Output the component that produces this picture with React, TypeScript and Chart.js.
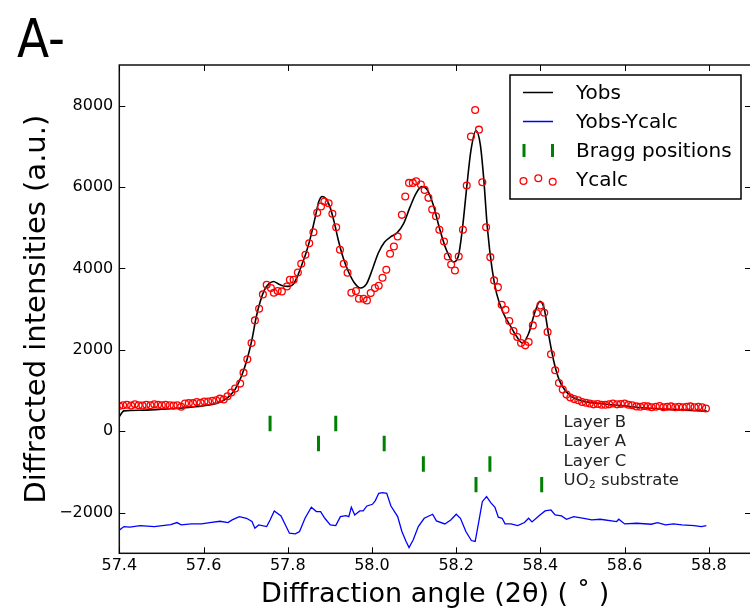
import React, { useEffect, useRef } from 'react';
import { Chart, registerables } from 'chart.js';

Chart.register(...registerables);

const FONT = "'DejaVu Sans', 'Noto Sans', sans-serif";

const obsX = [57.400, 57.411, 57.45, 57.50, 57.55, 57.58, 57.61, 57.63, 57.65, 57.665, 57.675, 57.69, 57.703, 57.715, 57.725, 57.735, 57.745, 57.755, 57.766, 57.778, 57.79, 57.80, 57.812, 57.822, 57.832, 57.844, 57.855, 57.865, 57.874, 57.882, 57.89, 57.90, 57.91, 57.92, 57.932, 57.945, 57.958, 57.973, 57.987, 58.0, 58.015, 58.03, 58.045, 58.06, 58.075, 58.09, 58.105, 58.118, 58.132, 58.146, 58.16, 58.175, 58.193, 58.205, 58.215, 58.225, 58.235, 58.247, 58.257, 58.265, 58.274, 58.285, 58.296, 58.312, 58.328, 58.344, 58.357, 58.372, 58.387, 58.399, 58.409, 58.419, 58.431, 58.445, 58.459, 58.474, 58.50, 58.54, 58.59, 58.65, 58.72, 58.795];
const obsY = [360, 500, 515, 540, 570, 600, 640, 680, 770, 900, 1030, 1350, 1750, 2250, 2800, 3200, 3480, 3620, 3680, 3620, 3570, 3560, 3600, 3780, 4050, 4400, 4800, 5250, 5650, 5770, 5720, 5520, 5150, 4700, 4250, 3900, 3650, 3520, 3620, 3950, 4380, 4650, 4780, 4880, 5100, 5500, 5850, 6010, 5920, 5550, 5000, 4500, 4160, 4300, 5000, 6000, 6900, 7390, 7060, 6250, 5000, 4000, 3380, 2900, 2600, 2320, 2170, 2400, 2930, 3190, 3010, 2400, 1750, 1250, 1000, 850, 740, 680, 630, 570, 530, 495];

const calcX = [57.400, 57.409, 57.418, 57.428, 57.437, 57.446, 57.455, 57.464, 57.474, 57.483, 57.492, 57.501, 57.510, 57.520, 57.529, 57.538, 57.547, 57.556, 57.565, 57.575, 57.584, 57.593, 57.602, 57.611, 57.621, 57.630, 57.639, 57.648, 57.657, 57.666, 57.675, 57.687, 57.695, 57.704, 57.714, 57.722, 57.732, 57.741, 57.750, 57.760, 57.767, 57.776, 57.786, 57.798, 57.805, 57.814, 57.824, 57.832, 57.842, 57.851, 57.861, 57.870, 57.879, 57.887, 57.897, 57.906, 57.915, 57.924, 57.933, 57.942, 57.951, 57.962, 57.969, 57.980, 57.988, 57.997, 58.007, 58.016, 58.025, 58.034, 58.043, 58.052, 58.061, 58.071, 58.079, 58.088, 58.097, 58.105, 58.116, 58.125, 58.134, 58.143, 58.152, 58.160, 58.171, 58.180, 58.188, 58.197, 58.206, 58.216, 58.225, 58.235, 58.245, 58.254, 58.262, 58.271, 58.281, 58.290, 58.299, 58.308, 58.317, 58.326, 58.336, 58.345, 58.354, 58.364, 58.372, 58.382, 58.391, 58.400, 58.409, 58.417, 58.425, 58.435, 58.444, 58.453, 58.462, 58.471, 58.480, 58.490, 58.499, 58.508, 58.517, 58.526, 58.536, 58.545, 58.554, 58.563, 58.572, 58.582, 58.591, 58.600, 58.609, 58.618, 58.628, 58.637, 58.646, 58.655, 58.664, 58.674, 58.683, 58.692, 58.701, 58.710, 58.720, 58.729, 58.738, 58.747, 58.756, 58.766, 58.775, 58.784, 58.793];
const calcY = [620, 640, 650, 630, 660, 640, 630, 650, 640, 660, 650, 640, 650, 640, 630, 640, 600, 680, 690, 690, 720, 700, 730, 730, 750, 760, 800, 780, 860, 950, 1048, 1170, 1440, 1767, 2167, 2724, 3011, 3362, 3600, 3517, 3404, 3443, 3436, 3558, 3722, 3722, 3902, 4115, 4336, 4621, 4891, 5367, 5521, 5644, 5603, 5342, 5013, 4459, 4115, 3894, 3404, 3443, 3256, 3256, 3215, 3394, 3517, 3575, 3771, 3967, 4360, 4540, 4785, 5318, 5767, 6103, 6103, 6143, 6062, 5931, 5735, 5448, 5284, 4950, 4663, 4295, 4098, 3951, 4295, 4950, 6037, 7240, 7894, 7411, 6118, 5013, 4278, 3706, 3541, 3109, 2986, 2707, 2461, 2314, 2167, 2110, 2192, 2601, 2904, 3092, 2912, 2437, 1890, 1497, 1186, 1023, 900, 830, 790, 760, 720, 700, 680, 660, 670, 650, 650, 660, 680, 660, 670, 680, 650, 640, 610, 600, 620, 610, 590, 600, 620, 590, 600, 610, 590, 600, 590, 600, 610, 590, 600, 590, 560];

const diffX = [57.398, 57.411, 57.425, 57.45, 57.483, 57.522, 57.537, 57.547, 57.571, 57.595, 57.615, 57.639, 57.658, 57.668, 57.685, 57.702, 57.715, 57.722, 57.731, 57.75, 57.758, 57.768, 57.784, 57.804, 57.818, 57.828, 57.841, 57.856, 57.868, 57.878, 57.888, 57.901, 57.914, 57.925, 57.938, 57.945, 57.951, 57.959, 57.971, 57.979, 57.988, 58.001, 58.008, 58.016, 58.025, 58.035, 58.045, 58.061, 58.071, 58.081, 58.088, 58.098, 58.11, 58.124, 58.144, 58.153, 58.173, 58.187, 58.2, 58.21, 58.223, 58.236, 58.245, 58.253, 58.262, 58.272, 58.282, 58.292, 58.3, 58.309, 58.316, 58.33, 58.346, 58.362, 58.372, 58.38, 58.396, 58.411, 58.425, 58.435, 58.45, 58.462, 58.479, 58.503, 58.522, 58.542, 58.581, 58.586, 58.6, 58.629, 58.663, 58.678, 58.697, 58.716, 58.736, 58.765, 58.782, 58.794];
const diffY = [-2449, -2343, -2359, -2318, -2343, -2294, -2245, -2302, -2278, -2278, -2245, -2212, -2245, -2180, -2098, -2139, -2220, -2384, -2302, -2343, -2180, -1959, -2082, -2506, -2522, -2465, -2139, -1869, -1975, -1975, -2139, -2302, -2318, -2098, -2073, -2098, -1869, -2057, -1959, -1959, -1837, -1796, -1706, -1526, -1510, -1526, -1837, -2098, -2465, -2710, -2857, -2669, -2343, -2139, -2041, -2204, -2278, -2180, -2041, -2139, -2465, -2686, -2710, -2261, -1731, -1608, -1755, -1869, -2114, -2139, -2278, -2278, -2318, -2245, -2139, -2229, -2082, -1959, -1935, -2057, -2082, -2163, -2098, -2139, -2180, -2163, -2220, -2163, -2278, -2261, -2286, -2245, -2302, -2278, -2302, -2318, -2343, -2318];

const phaseNames = ['Layer B', 'Layer A', 'Layer C', 'UO2 substrate'];
const braggX = [[57.758, 57.914], [57.873, 58.029], [58.122, 58.280], [58.247, 58.403]];
const braggRowY = [188, -303, -805, -1313];
const phaseLabelY = [228, -245, -719, -1185];

const xTicks = [57.4, 57.6, 57.8, 58.0, 58.2, 58.4, 58.6, 58.8];
const yTicks = [-2000, 0, 2000, 4000, 6000, 8000];

const legendNames = ['Yobs', 'Yobs-Ycalc', 'Bragg positions', 'Ycalc'];

const BLACK = '#000000';
const BLUE = '#0000ff';
const GREEN = '#008000';
const RED = '#ff0000';

const decorPlugin = {
  id: 'decor',
  afterDraw(chart: any) {
    const ctx = chart.ctx;
    const { left, right, top, bottom } = chart.chartArea;
    const xs = chart.scales.x;
    const ys = chart.scales.y;
    ctx.save();

    ctx.strokeStyle = '#111';
    ctx.lineWidth = 1.5;
    ctx.strokeRect(left, top, right - left, bottom - top);

    ctx.lineWidth = 1;
    ctx.strokeStyle = '#000';
    ctx.beginPath();
    xTicks.forEach((v) => {
      const px = Math.round(xs.getPixelForValue(v)) + 0.5;
      ctx.moveTo(px, bottom); ctx.lineTo(px, bottom - 6);
      ctx.moveTo(px, top); ctx.lineTo(px, top + 6);
    });
    yTicks.forEach((v) => {
      const py = Math.round(ys.getPixelForValue(v)) + 0.5;
      ctx.moveTo(left, py); ctx.lineTo(left + 6, py);
      ctx.moveTo(right, py); ctx.lineTo(right - 6, py);
    });
    ctx.stroke();

    ctx.fillStyle = '#222';
    ctx.textBaseline = 'middle';
    ctx.textAlign = 'left';
    const lx = xs.getPixelForValue(58.455);
    phaseNames.forEach((name, i) => {
      const py = ys.getPixelForValue(phaseLabelY[i]) + 1;
      ctx.font = `16.5px ${FONT}`;
      if (name.startsWith('UO2')) {
        ctx.fillText('UO', lx, py);
        const w1 = ctx.measureText('UO').width;
        ctx.font = `11px ${FONT}`;
        ctx.fillText('2', lx + w1, py + 5);
        const w2 = ctx.measureText('2').width;
        ctx.font = `16.5px ${FONT}`;
        ctx.fillText(name.slice(3), lx + w1 + w2, py);
      } else {
        ctx.fillText(name, lx, py);
      }
    });

    const bx = 510, by = 75, bw = 231, bh = 124;
    ctx.fillStyle = '#fff';
    ctx.fillRect(bx, by, bw, bh);
    ctx.strokeStyle = '#000';
    ctx.lineWidth = 1.5;
    ctx.strokeRect(bx, by, bw, bh);
    const rows = [92.5, 121.5, 150.5, 179.5];
    const sx0 = 523, sx1 = 553;
    ctx.strokeStyle = BLACK; ctx.lineWidth = 1.5;
    ctx.beginPath(); ctx.moveTo(sx0, rows[0]); ctx.lineTo(sx1, rows[0]); ctx.stroke();
    ctx.strokeStyle = BLUE; ctx.lineWidth = 1.5;
    ctx.beginPath(); ctx.moveTo(sx0, rows[1]); ctx.lineTo(sx1, rows[1]); ctx.stroke();
    ctx.strokeStyle = GREEN; ctx.lineWidth = 3;
    ctx.beginPath();
    ctx.moveTo(sx0 + 1, rows[2] - 6.5); ctx.lineTo(sx0 + 1, rows[2] + 6.5);
    ctx.moveTo(sx1 - 0.5, rows[2] - 6.5); ctx.lineTo(sx1 - 0.5, rows[2] + 6.5);
    ctx.stroke();
    ctx.strokeStyle = RED; ctx.lineWidth = 1.3;
    [[523.5, 181], [538.3, 178.3], [552.7, 181.7]].forEach(([cx, cy]) => {
      ctx.beginPath(); ctx.arc(cx, cy, 3.4, 0, Math.PI * 2); ctx.stroke();
    });
    ctx.fillStyle = '#000';
    ctx.font = `20px ${FONT}`;
    legendNames.forEach((n, i) => ctx.fillText(n, 576, rows[i] + 1));

    ctx.save();
    ctx.translate(17, 57);
    ctx.scale(0.87, 1);
    ctx.font = `54px ${FONT}`;
    ctx.textBaseline = 'alphabetic';
    ctx.fillStyle = '#000';
    ctx.fillText('A-', 0, 0);
    ctx.restore();

    ctx.restore();
  },
};

export default function App() {
  const ref = useRef<HTMLCanvasElement | null>(null);

  useEffect(() => {
    document.body.style.margin = '0';
    const canvas = ref.current;
    if (!canvas) return;

    const pts = (xsArr: number[], ysArr: number[]) => xsArr.map((x, i) => ({ x, y: ysArr[i] }));
    const braggPts: { x: number; y: number }[] = [];
    braggX.forEach((row, i) => row.forEach((x) => braggPts.push({ x, y: braggRowY[i] })));

    const chart = new Chart(canvas, {
      type: 'scatter',
      data: {
        datasets: [
          {
            label: 'Ycalc',
            data: pts(calcX, calcY),
            showLine: false,
            pointStyle: 'circle',
            pointRadius: 3.4,
            pointBorderWidth: 1.3,
            pointBorderColor: RED,
            pointBackgroundColor: 'rgba(0,0,0,0)',
            order: 0,
          } as any,
          {
            label: 'Yobs',
            data: pts(obsX, obsY),
            showLine: true,
            borderColor: BLACK,
            borderWidth: 1.6,
            pointRadius: 0,
            cubicInterpolationMode: 'monotone',
            order: 1,
          } as any,
          {
            label: 'Yobs-Ycalc',
            data: pts(diffX, diffY),
            showLine: true,
            borderColor: BLUE,
            borderWidth: 1.3,
            pointRadius: 0,
            tension: 0,
            order: 2,
          } as any,
          {
            label: 'Bragg positions',
            data: braggPts,
            showLine: false,
            pointStyle: 'line',
            pointRotation: 90,
            pointRadius: 7.7,
            pointBorderWidth: 3,
            pointBorderColor: GREEN,
            order: 3,
          } as any,
        ],
      },
      options: {
        animation: false,
        responsive: false,
        events: [],
        layout: { autoPadding: false, padding: { left: 0, top: 65, right: 1, bottom: 0 } },
        plugins: { legend: { display: false }, tooltip: { enabled: false } },
        scales: {
          x: {
            type: 'linear',
            min: 57.4,
            max: 58.9,
            afterBuildTicks: (s: any) => { s.ticks = xTicks.map((v) => ({ value: v })); },
            afterFit: (s: any) => { s.height = 59.7; s.paddingLeft = 0; s.paddingRight = 0; },
            grid: { display: false, drawTicks: false },
            border: { display: false },
            ticks: {
              padding: 3,
              color: '#000',
              autoSkip: false,
              maxRotation: 0,
              font: { family: FONT, size: 16 },
              callback: (v: any) => Number(v).toFixed(1),
            },
            title: {
              display: true,
              text: 'Diffraction angle (2θ) ( ˚ )',
              color: '#000',
              font: { family: FONT, size: 27 },
              padding: { top: 0, bottom: 2 },
            },
          },
          y: {
            type: 'linear',
            min: -3000,
            max: 9000,
            afterBuildTicks: (s: any) => { s.ticks = yTicks.map((v) => ({ value: v })); },
            afterFit: (s: any) => { s.width = 119.3; s.paddingTop = 0; s.paddingBottom = 0; },
            grid: { display: false, drawTicks: false },
            border: { display: false },
            ticks: {
              padding: 6,
              color: '#000',
              autoSkip: false,
              font: { family: FONT, size: 16 },
              callback: (v: any) => (Number(v) < 0 ? '\u2212' + Math.abs(Number(v)) : String(v)),
            },
            title: {
              display: true,
              text: 'Diffracted intensities (a.u.)',
              color: '#000',
              font: { family: FONT, size: 29 },
              padding: { top: 20, bottom: 0 },
            },
          },
        },
      },
      plugins: [decorPlugin],
    });

    return () => chart.destroy();
  }, []);

  return (
    <div style={{ width: 750, height: 613, overflow: 'hidden', position: 'relative' }}>
      <canvas ref={ref} width={752} height={613} style={{ display: 'block' }} />
    </div>
  );
}
